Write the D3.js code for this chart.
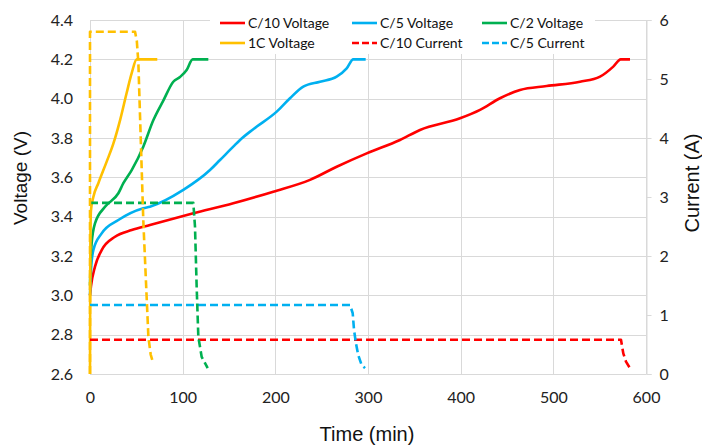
<!DOCTYPE html>
<html><head><meta charset="utf-8">
<script src="https://cdn.jsdelivr.net/npm/d3@7"></script>
<style>body{margin:0;background:#fff}svg{display:block}</style>
</head><body><svg id="c" width="702" height="447"></svg>
<script>
// ---- data ----
const timeTicks = [0,100,200,300,400,500,600];
const voltTicks = [2.6,2.8,3.0,3.2,3.4,3.6,3.8,4.0,4.2,4.4];
const currTicks = [0,1,2,3,4,5,6];

const tC10V = [0,1,5.4,12.6,27,45,64.7,111.5,154.6,197.8,237.4,266.2,298.6,334.5,356.1,399.3,420.9,442.4,464,492.8,528.8,550.4,564.7,572.7,582.7];
const vC10  = [3.0,3.044,3.146,3.23,3.298,3.332,3.358,3.417,3.468,3.527,3.587,3.654,3.722,3.79,3.841,3.90,3.943,4.002,4.044,4.064,4.086,4.112,4.163,4.2,4.2];
const tC5V  = [0,1.1,3.6,12.6,30.6,57.5,64.7,100.7,129.5,140.3,154.6,161.9,176.2,201.5,215.8,230.2,248.2,266.2,277,284.1,297.5];
const vC5   = [3.0,3.129,3.23,3.315,3.383,3.443,3.451,3.536,3.637,3.688,3.756,3.79,3.845,3.934,4.002,4.061,4.086,4.112,4.154,4.2,4.2];
const tC2V  = [0,0.5,1.8,5.4,16.2,30.6,36,45,57.5,68.3,79.1,89.9,97.1,104.3,110.8,127.7];
const vC2   = [3.05,3.15,3.265,3.366,3.45,3.519,3.57,3.637,3.756,3.89,3.99,4.086,4.11,4.146,4.2,4.2];
const t1CV  = [0,0.3,1,3.6,9,18,25.1,32.4,39.6,45,50.4,72.6];
const v1C   = [2.6,3.2,3.43,3.50,3.57,3.68,3.77,3.89,4.03,4.13,4.2,4.2];

const tC10A = [0,573,575.5,578.4,582.7];
const aC10  = [0.58,0.58,0.35,0.21,0.1];
const tC5A  = [0,280.6,283.5,284.9,287,289.5,293.2,296.8];
const aC5   = [1.17,1.17,1.03,0.75,0.52,0.32,0.15,0.1];
const tC2A  = [0,111.5,113.3,115.1,116.9,120.5,127];
const aC2   = [2.9,2.9,2.5,1.48,0.63,0.29,0.1];
const t1CA  = [0,0,48.6,50.5,52.2,57.5,63,65.5,68.3];
const a1C   = [0,5.8,5.8,5.65,5.27,2.61,0.63,0.33,0.18];

const legendNames = ["C/10 Voltage","C/5 Voltage","C/2 Voltage","1C Voltage","C/10 Current","C/5 Current"];

// ---- chart ----
const svg = d3.select("#c");
const L=90, R=646, T=20, B=374;
const x = d3.scaleLinear().domain([0,600]).range([L,R]);
const yV = d3.scaleLinear().domain([2.6,4.4]).range([B,T]);
const yA = d3.scaleLinear().domain([0,6]).range([B,T]);

const grid = svg.append("g").attr("stroke","#d9d9d9").attr("stroke-width",1);
voltTicks.forEach(v=>grid.append("line").attr("x1",L).attr("x2",R).attr("y1",Math.round(yV(v))+0.5).attr("y2",Math.round(yV(v))+0.5));
timeTicks.forEach(t=>grid.append("line").attr("y1",T).attr("y2",B).attr("x1",Math.round(x(t))+0.5).attr("x2",Math.round(x(t))+0.5));

// right axis
const ra = svg.append("g").attr("transform",`translate(${R+0.5},0)`)
  .call(d3.axisRight(yA).tickValues(currTicks).tickSize(5).tickPadding(8).tickFormat(d3.format("d")));
ra.select(".domain").attr("stroke","#d9d9d9");
ra.selectAll(".tick line").attr("stroke","#d9d9d9");
ra.selectAll("text").attr("font-family","Lato, 'Open Sans', sans-serif").attr("font-size",16).attr("fill","#222");

// left axis labels
const la = svg.append("g").attr("transform",`translate(${L},0)`)
  .call(d3.axisLeft(yV).tickValues(voltTicks).tickSize(0).tickPadding(17).tickFormat(d3.format(".1f")));
la.select(".domain").remove();
la.selectAll("text").attr("font-family","Lato, 'Open Sans', sans-serif").attr("font-size",16).attr("fill","#222");

// bottom axis labels
const ba = svg.append("g").attr("transform",`translate(0,${B})`)
  .call(d3.axisBottom(x).tickValues(timeTicks).tickSize(0).tickPadding(18).tickFormat(d3.format("d")));
ba.select(".domain").attr("stroke","#d9d9d9");
ba.selectAll("text").attr("font-family","Lato, 'Open Sans', sans-serif").attr("font-size",16).attr("fill","#222");

// titles
svg.append("text").attr("transform","translate(27,178) rotate(-90)").attr("text-anchor","middle")
  .attr("font-family","'Liberation Sans', Arial, sans-serif").attr("font-size",19).attr("fill","#111").text("Voltage (V)");
svg.append("text").attr("transform","translate(699,183) rotate(-90)").attr("text-anchor","middle")
  .attr("font-family","'Liberation Sans', Arial, sans-serif").attr("font-size",20).attr("fill","#111").text("Current (A)");
svg.append("text").attr("x",367).attr("y",441).attr("text-anchor","middle")
  .attr("font-family","'Liberation Sans', Arial, sans-serif").attr("font-size",20).attr("fill","#111").text("Time (min)");

// series
const RED="#ff0000", BLUE="#00b0f0", GREEN="#00b050", YEL="#ffc000";
const lineV = d3.line().x(d=>x(d[0])).y(d=>yV(d[1])).curve(d3.curveMonotoneX);
const lineA = d3.line().x(d=>x(d[0])).y(d=>yA(d[1])).curve(d3.curveLinear);
const zip=(a,b)=>a.map((v,i)=>[v,b[i]]);
const plot = svg.append("g").attr("fill","none").attr("stroke-width",2.6).attr("stroke-linejoin","round");
[[tC10V,vC10,RED],[tC5V,vC5,BLUE],[tC2V,vC2,GREEN],[t1CV,v1C,YEL]].forEach(([t,v,c])=>
  plot.append("path").attr("d",lineV(zip(t,v))).attr("stroke",c));
[[tC10A,aC10,RED],[tC5A,aC5,BLUE],[tC2A,aC2,GREEN],[t1CA,a1C,YEL]].forEach(([t,a,c])=>
  plot.append("path").attr("d",lineA(zip(t,a))).attr("stroke",c).attr("stroke-dasharray","8,4"));

// legend
const leg = svg.append("g");
leg.append("rect").attr("x",210).attr("y",6).attr("width",385).attr("height",48).attr("fill","#fff");
const cols=[220,352,482], rows=[23,43];
const legColors=[RED,BLUE,GREEN,YEL,RED,BLUE], legDash=[0,0,0,0,1,1];
legendNames.forEach((n,i)=>{
  const cx=cols[i%3], cy=rows[Math.floor(i/3)];
  leg.append("line").attr("x1",cx).attr("x2",cx+25).attr("y1",cy).attr("y2",cy)
    .attr("stroke",legColors[i]).attr("stroke-width",2.6).attr("stroke-dasharray",legDash[i]?"7,3":null);
  leg.append("text").attr("x",cx+28).attr("y",cy+5).attr("font-family","Lato, 'Open Sans', sans-serif")
    .attr("font-size",14).attr("fill","#111").text(n);
});
</script></body></html>
